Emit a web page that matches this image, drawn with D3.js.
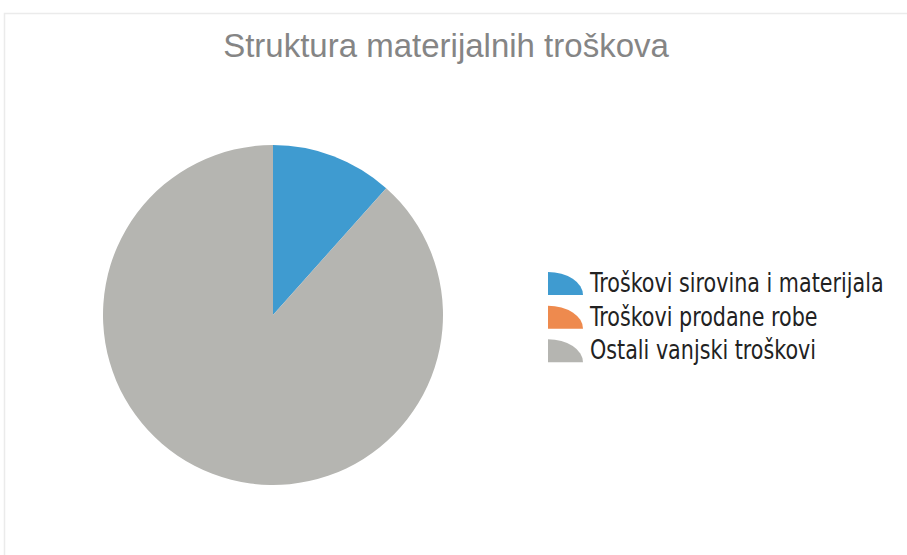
<!DOCTYPE html>
<html><head><meta charset="utf-8">
<script src="https://cdn.jsdelivr.net/npm/d3@7"></script>
<style>html,body{margin:0;padding:0;background:#fff;}</style>
</head><body>
<svg id="c" width="907" height="555"></svg>
<script>
const categories = ["Troškovi sirovina i materijala", "Troškovi prodane robe", "Ostali vanjski troškovi"];
const values = [11.6, 0, 88.4];
const colors = ["#3f9bd0", "#ee8a4e", "#b5b5b1"];
const title = "Struktura materijalnih troškova";

const svg = d3.select("#c");
svg.append("rect").attr("x", 4.5).attr("y", 13.5).attr("width", 920).attr("height", 560)
  .attr("fill", "#fff").attr("stroke", "#ebebeb").attr("stroke-width", 1.5);

svg.append("text").attr("x", 446).attr("y", 57).attr("text-anchor", "middle")
  .attr("font-family", "Liberation Sans, Arial, sans-serif").attr("font-size", 33)
  .attr("fill", "#858585").text(title);

const data = categories.map((c, i) => ({c, v: values[i], col: colors[i]}));
const pie = d3.pie().value(d => d.v).sort(null);
const arc = d3.arc().innerRadius(0).outerRadius(170);
const g = svg.append("g").attr("transform", "translate(273,315)");
g.selectAll("path").data(pie(data).filter(d => d.data.v > 0)).join("path")
  .attr("d", arc).attr("fill", d => d.data.col);

const y = d3.scaleBand().domain(categories).range([272, 373]);
const lg = svg.append("g");
const items = lg.selectAll("g").data(data).join("g")
  .attr("transform", d => `translate(548,${y(d.c)})`);
const w = 35, h = 23;
items.append("path")
  .attr("d", `M0,${h} L0,0 A${w},${h} 0 0 1 ${w},${h} Z`)
  .attr("fill", d => d.col);
items.append("text")
  .attr("transform", `translate(42,${h/2 + 1}) scale(1,1.18)`)
  .attr("dominant-baseline", "middle")
  .attr("font-family", "Liberation Sans Narrow, DejaVu Sans Condensed, sans-serif")
  .attr("font-size", 23).attr("fill", "#222").text(d => d.c);
</script>
</body></html>
